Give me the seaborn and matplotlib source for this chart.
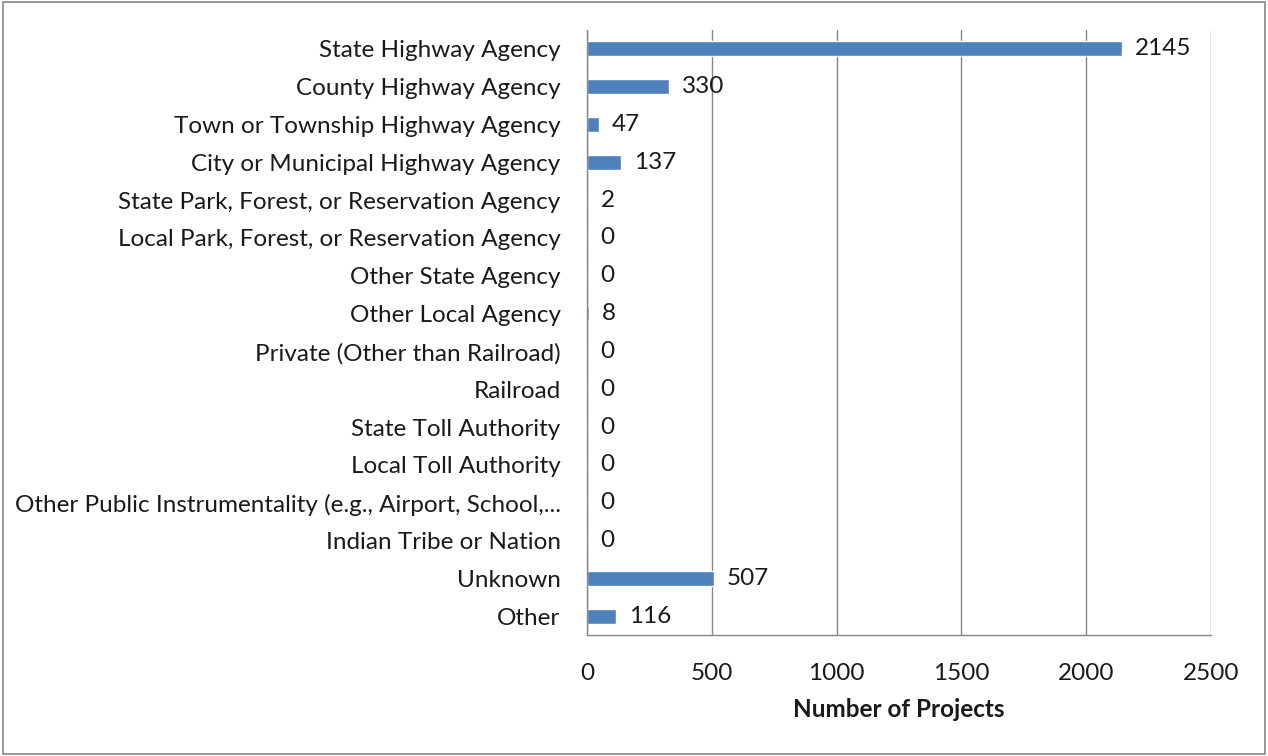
import matplotlib
matplotlib.use("Agg")
import matplotlib.pyplot as plt
import seaborn as sns
import pandas as pd
import numpy as np
from matplotlib.patches import Rectangle

categories = [
    "State Highway Agency",
    "County Highway Agency",
    "Town or Township Highway Agency",
    "City or Municipal Highway Agency",
    "State Park, Forest, or Reservation Agency",
    "Local Park, Forest, or Reservation Agency",
    "Other State Agency",
    "Other Local Agency",
    "Private (Other than Railroad)",
    "Railroad",
    "State Toll Authority",
    "Local Toll Authority",
    "Other Public Instrumentality (e.g., Airport, School,...",
    "Indian Tribe or Nation",
    "Unknown",
    "Other",
]
values = [2145, 330, 47, 137, 2, 0, 0, 8, 0, 0, 0, 0, 0, 0, 507, 116]
x_ticks = [0, 500, 1000, 1500, 2000, 2500]
x_label = "Number of Projects"

sns.set_theme(style="white")
plt.rcParams['font.family'] = ['Lato', 'DejaVu Sans']

FS = 17.5
TC = "#1a1a1a"

df = pd.DataFrame({"category": categories, "value": values})

fig = plt.figure(figsize=(12.68, 7.56), dpi=100)
ax = fig.add_axes([587/1268, 1-635/756, (1211-587)/1268, (635-30)/756])

sns.barplot(data=df, y="category", x="value", orient="h", color="#4F81BD",
            saturation=1, width=0.4, ax=ax)

ax.set_xlim(0, 2500)
ax.set_ylim(len(categories)-0.5, -0.5)
ax.set_xticks(x_ticks)
ax.set_xticklabels([str(t) for t in x_ticks], fontsize=FS, color=TC)
ax.tick_params(axis="x", direction="out", length=8, width=1, color="#868686", pad=12)
ax.set_yticks(range(len(categories)))
ax.set_yticklabels(categories, fontsize=FS, color=TC)
ax.tick_params(axis="y", length=0, pad=19)
ax.set_yticks(np.arange(-0.5, len(categories)+0.5, 1), minor=True)
ax.tick_params(axis="y", which="minor", direction="out", length=7, width=1, color="#868686")
ax.set_ylabel("")
ax.set_xlabel(x_label, fontsize=FS, fontweight="bold", labelpad=10, color=TC)

ax.grid(axis="x", color="#868686", linewidth=1)
ax.grid(axis="y", visible=False)
ax.set_axisbelow(True)
for s in ["top", "right"]:
    ax.spines[s].set_visible(False)
for s in ["left", "bottom"]:
    ax.spines[s].set_color("#868686")
    ax.spines[s].set_linewidth(1)

for i, v in enumerate(values):
    ax.text(v + 52, i, str(v), va="center", ha="left", fontsize=FS, color=TC)

fig.patches.append(Rectangle((0.002, 0.003), 0.996, 0.994, transform=fig.transFigure,
                             fill=False, edgecolor="#868686", linewidth=1.2))

fig.savefig("out.png", dpi=100)
